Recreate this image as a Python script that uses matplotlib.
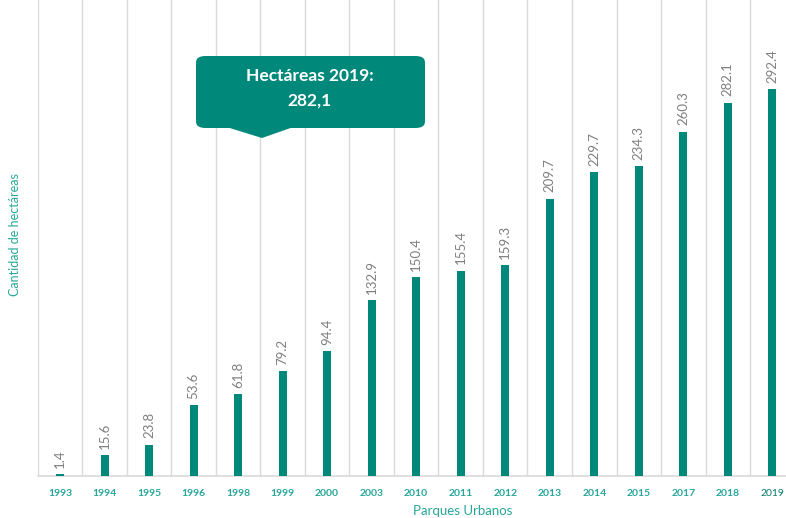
import matplotlib.pyplot as plt
import numpy as np
from matplotlib.patches import FancyBboxPatch, Polygon
from matplotlib.transforms import ScaledTranslation

plt.rcParams['font.family'] = ['Lato', 'DejaVu Sans']

# --- Hectáreas de parques urbanos por año ---
anios = ['1993', '1994', '1995', '1996', '1998', '1999', '2000', '2003', '2010',
         '2011', '2012', '2013', '2014', '2015', '2017', '2018', '2019']
hectareas = [1.4, 15.6, 23.8, 53.6, 61.8, 79.2, 94.4, 132.9, 150.4,
             155.4, 159.3, 209.7, 229.7, 234.3, 260.3, 282.1, 292.4]
etiquetas = ['1.4', '15.6', '23.8', '53.6', '61.8', '79.2', '94.4', '132.9', '150.4',
             '155.4', '159.3', '209.7', '229.7', '234.3', '260.3', '282.1', '292.4']

verde = '#00897b'
verde_txt = '#26a69a'

fig = plt.figure(figsize=(7.86, 5.18), dpi=100)
ax = fig.add_axes([0.048, 0.081, 0.963, 0.919])

x = np.arange(len(anios))
ax.bar(x, hectareas, width=0.18, color=verde, zorder=3)

for xi, v, t in zip(x, hectareas, etiquetas):
    ax.text(xi, v + 5, t, rotation=90, ha='center', va='bottom',
            fontsize=9.5, color='#7f7f7f')

# líneas verticales entre categorías
for b in np.arange(-0.5, len(anios), 1):
    ax.axvline(b, color='#d9d9d9', lw=1, zorder=1)

ax.set_xlim(-0.5, len(anios) - 0.5)
ax.set_ylim(0, 360)
ax.set_yticks([])
ax.set_xticks(x)
ax.set_xticklabels(anios, fontsize=7.5, color=verde_txt, fontweight='bold')
ult = ax.get_xticklabels()[-1]
ult.set_fontsize(7.5)
ult.set_fontweight('normal')
ult.set_color('#00796b')
ult.set_transform(ult.get_transform() + ScaledTranslation(0, -0.03, fig.dpi_scale_trans))
ax.tick_params(axis='x', length=0, pad=9)
for s in ['top', 'right', 'left']:
    ax.spines[s].set_visible(False)
ax.spines['bottom'].set_color('#d9d9d9')
ax.spines['bottom'].set_linewidth(1.2)

fig.text(463 / 786, 1 - 511 / 518, 'Parques Urbanos', ha='center', va='center',
         fontsize=9.5, color=verde_txt)
fig.text(15 / 786, 1 - 235 / 518, 'Cantidad de hectáreas', ha='center', va='center',
         rotation=90, fontsize=9, color=verde_txt)

# cuadro de llamada
bx0, by0, bx1, by1 = 196 / 786, 1 - 128 / 518, 425 / 786, 1 - 56 / 518
caja = FancyBboxPatch((bx0, by0), bx1 - bx0, by1 - by0,
                      boxstyle='round,pad=0,rounding_size=0.012',
                      transform=fig.transFigure, facecolor=verde, edgecolor='none',
                      zorder=10)
fig.add_artist(caja)
pico = Polygon([(228 / 786, by0 + 0.001), (292 / 786, by0 + 0.001),
                (262 / 786, 1 - 138 / 518)], closed=True,
               transform=fig.transFigure, facecolor=verde, edgecolor='none', zorder=10)
fig.add_artist(pico)
fig.text(310 / 786, 1 - 76 / 518, 'Hectáreas 2019:', ha='center', va='center',
         fontsize=12.5, fontweight='bold', color='white', zorder=11)
fig.text(310 / 786, 1 - 101 / 518, '282,1', ha='center', va='center',
         fontsize=12.5, fontweight='bold', color='white', zorder=11)

fig.savefig('out.png', dpi=100)
